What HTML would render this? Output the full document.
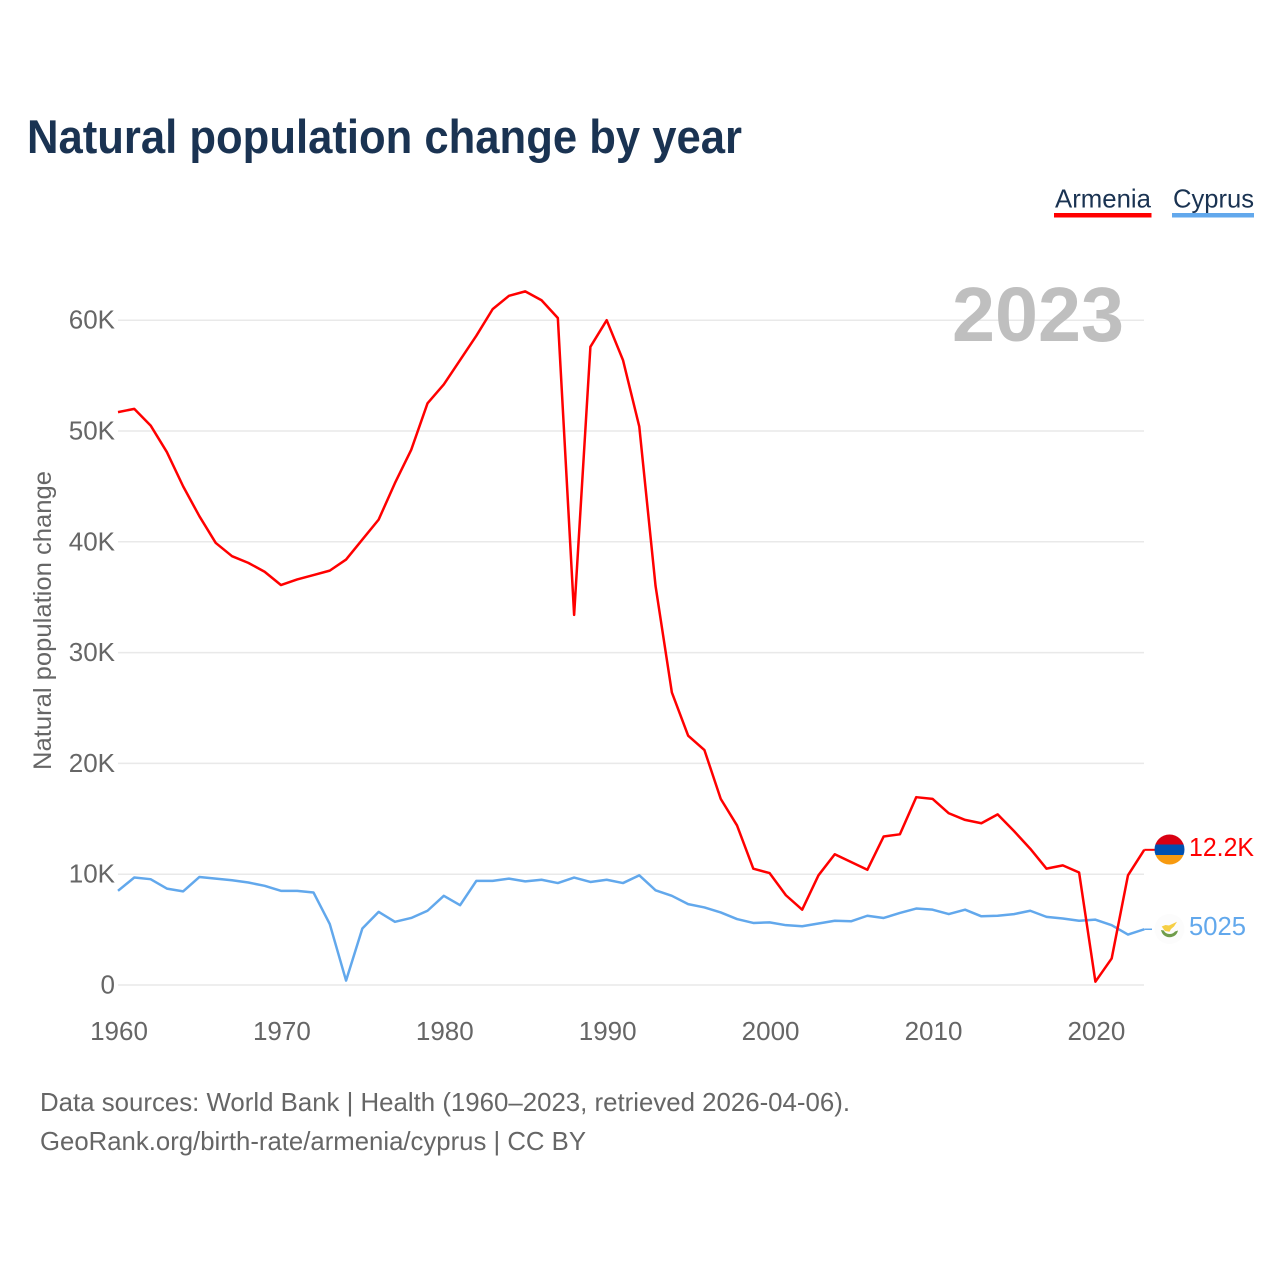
<!DOCTYPE html>
<html lang="en">
<head>
<meta charset="utf-8">
<title>Natural population change by year</title>
<style>
html,body{margin:0;padding:0;background:#fff;width:1280px;height:1280px;overflow:hidden}
svg{display:block}
text{font-family:"Liberation Sans",sans-serif}
</style>
</head>
<body>
<svg id="chart" xmlns="http://www.w3.org/2000/svg" width="1280" height="1280" viewBox="0 0 1280 1280">
  <rect width="1280" height="1280" fill="#fff"/>
  <text x="27" y="153" font-size="47" font-weight="700" fill="#1a3352" textLength="715" lengthAdjust="spacingAndGlyphs">Natural population change by year</text>

  <g>
    <g>
      <text x="1055" y="207.500" font-size="26" fill="#1a3352" textLength="96" lengthAdjust="spacingAndGlyphs">Armenia</text>
      <rect x="1054" y="213" width="97.500" height="4.500" fill="#ff0000"/>
    </g>
    <g>
      <text x="1173" y="207.500" font-size="26" fill="#1a3352" textLength="81" lengthAdjust="spacingAndGlyphs">Cyprus</text>
      <rect x="1172" y="213" width="82" height="4.500" fill="#62a8ec"/>
    </g>
  </g>

  <g id="grid"></g>
  <g id="y-ticks"></g>
  <g id="x-ticks"></g>

  <text x="1124" y="341" font-size="77" font-weight="700" fill="#bfbfbf" text-anchor="end" textLength="172" lengthAdjust="spacingAndGlyphs">2023</text>

  <text transform="translate(51 770) rotate(-90)" font-size="25" fill="#666666" textLength="299" lengthAdjust="spacingAndGlyphs">Natural population change</text>

  <g id="series"></g>

  <g>
    <line id="lead-a" x2="1155" stroke="#ff0000" stroke-width="2"/>
    <clipPath id="flag-a-clip"><circle cx="1169.500" cy="849.500" r="15"/></clipPath>
    <g clip-path="url(#flag-a-clip)">
      <rect x="1154" y="834" width="31" height="10.500" fill="#d90012"/>
      <rect x="1154" y="844.500" width="31" height="10.500" fill="#0050b0"/>
      <rect x="1154" y="855" width="31" height="10" fill="#f79a10"/>
    </g>
    <text x="1189" y="856" font-size="26" fill="#ff0000" textLength="65" lengthAdjust="spacingAndGlyphs">12.2K</text>
  </g>
  <g>
    <line id="lead-c" x2="1152" stroke="#62a8ec" stroke-width="1.500"/>
    <g>
      <circle cx="1169.500" cy="929" r="15" fill="#fcfcfc"/>
      <path d="M1161.700 926.500 L1165.500 925 L1169 925.500 L1177 921.700 L1174 926.500 L1171 929 L1169.500 931.700 L1165 931 Z" fill="#f6cf45"/>
      <path d="M1161 930 Q1162.500 936.800 1169.500 937.300 Q1176.500 936.800 1178 930.500 L1175 931.500 Q1173 934 1169.500 934 Q1165.500 934 1163.800 930.500 Z" fill="#6f9c4b"/>
    </g>
    <text x="1189" y="935" font-size="26" fill="#62a8ec" textLength="57" lengthAdjust="spacingAndGlyphs">5025</text>
  </g>

  <text x="40" y="1111" font-size="26" fill="#666666" textLength="810" lengthAdjust="spacingAndGlyphs">Data sources: World Bank | Health (1960–2023, retrieved 2026-04-06).</text>
  <text x="40" y="1150" font-size="26" fill="#666666" textLength="546" lengthAdjust="spacingAndGlyphs">GeoRank.org/birth-rate/armenia/cyprus | CC BY</text>
</svg>

<script>
const startYear = 1960;
const armeniaValues = [
  51.7,52.0,50.5,48.1,45.0,42.3,39.9,38.7,38.1,37.3,
  36.1,36.6,37.0,37.4,38.4,40.2,42.0,45.3,48.3,52.5,
  54.2,56.4,58.6,61.0,62.2,62.6,61.8,60.2,33.4,57.6,
  60.0,56.4,50.4,36.0,26.4,22.5,21.2,16.8,14.4,10.5,
  10.1,8.1,6.8,9.9,11.8,11.1,10.4,13.4,13.6,16.95,
  16.8,15.5,14.9,14.6,15.4,13.9,12.3,10.5,10.8,10.15,
  0.3,2.4,9.9,12.2
];
const cyprusValues = [
  8.5,9.7,9.55,8.7,8.45,9.75,9.6,9.45,9.25,8.95,
  8.5,8.5,8.35,5.5,0.4,5.1,6.6,5.7,6.05,6.7,
  8.05,7.2,9.4,9.4,9.6,9.35,9.5,9.2,9.7,9.3,
  9.5,9.2,9.9,8.55,8.05,7.3,7.0,6.55,5.95,5.6,
  5.65,5.4,5.3,5.55,5.8,5.75,6.25,6.05,6.5,6.9,
  6.8,6.4,6.8,6.2,6.25,6.4,6.7,6.15,6.0,5.8,
  5.9,5.4,4.55,5.03
];
const yTickValues = [0,10,20,30,40,50,60];
const yTickLabels = ["0","10K","20K","30K","40K","50K","60K"];
const xTickYears = [1960,1970,1980,1990,2000,2010,2020];
const xTickLabels = ["1960","1970","1980","1990","2000","2010","2020"];

const NS = "http://www.w3.org/2000/svg";
const xScale = function(year){ return 118 + (year - 1960) * 16.29; };
const yScale = function(v){ return 985 - v * 11.08; };

const gridGroup = document.getElementById("grid");
const yGroup = document.getElementById("y-ticks");
const xGroup = document.getElementById("x-ticks");
const seriesGroup = document.getElementById("series");

yTickValues.forEach(function(v, i){
  const line = document.createElementNS(NS, "line");
  
  
  line.setAttribute("x1", 118);
  line.setAttribute("x2", 1144);
  line.setAttribute("y1", yScale(v));
  line.setAttribute("y2", yScale(v));
  line.setAttribute("stroke", "#e9e9e9");
  line.setAttribute("stroke-width", "1.5");
  gridGroup.appendChild(line);

  const t = document.createElementNS(NS, "text");
  
  
  t.setAttribute("x", 115);
  t.setAttribute("y", yScale(v) + 8.5);
  t.setAttribute("text-anchor", "end");
  t.setAttribute("font-size", "26");
  t.setAttribute("fill", "#666666");
  t.textContent = yTickLabels[i];
  yGroup.appendChild(t);
});

xTickYears.forEach(function(y, i){
  const t = document.createElementNS(NS, "text");
  
  
  t.setAttribute("x", xScale(y) + 1);
  t.setAttribute("y", 1040);
  t.setAttribute("text-anchor", "middle");
  t.setAttribute("font-size", "26");
  t.setAttribute("fill", "#666666");
  t.textContent = xTickLabels[i];
  xGroup.appendChild(t);
});

function linePoints(values){
  return values.map(function(v, i){
    return xScale(startYear + i).toFixed(2) + "," + yScale(v).toFixed(2);
  }).join(" ");
}

const cyprusLine = document.createElementNS(NS, "polyline");


cyprusLine.setAttribute("points", linePoints(cyprusValues));
cyprusLine.setAttribute("fill", "none");
cyprusLine.setAttribute("stroke", "#62a8ec");
cyprusLine.setAttribute("stroke-width", "2.5");
cyprusLine.setAttribute("stroke-linejoin", "round");
seriesGroup.appendChild(cyprusLine);

const armeniaLine = document.createElementNS(NS, "polyline");


armeniaLine.setAttribute("points", linePoints(armeniaValues));
armeniaLine.setAttribute("fill", "none");
armeniaLine.setAttribute("stroke", "#ff0000");
armeniaLine.setAttribute("stroke-width", "2.5");
armeniaLine.setAttribute("stroke-linejoin", "round");
seriesGroup.appendChild(armeniaLine);

const endYear = startYear + armeniaValues.length - 1;
const leadA = document.getElementById("lead-a");
leadA.setAttribute("x1", xScale(endYear));
leadA.setAttribute("y1", yScale(armeniaValues[armeniaValues.length - 1]));
leadA.setAttribute("y2", yScale(armeniaValues[armeniaValues.length - 1]));
const leadC = document.getElementById("lead-c");
leadC.setAttribute("x1", xScale(endYear));
leadC.setAttribute("y1", yScale(cyprusValues[cyprusValues.length - 1]));
leadC.setAttribute("y2", yScale(cyprusValues[cyprusValues.length - 1]));
</script>
</body>
</html>
